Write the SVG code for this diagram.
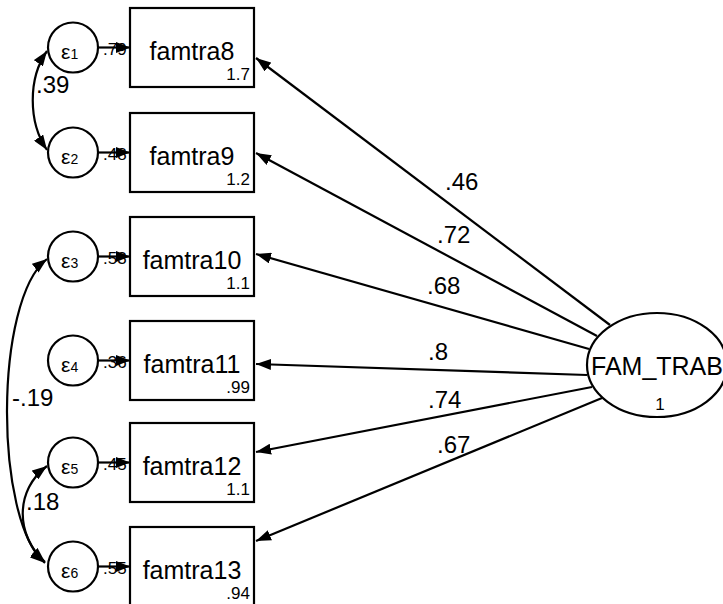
<svg xmlns="http://www.w3.org/2000/svg" width="723" height="604" viewBox="0 0 723 604">
  <defs>
    <marker id="arrow" viewBox="0 0 15 11" refX="15" refY="5.5" markerWidth="15" markerHeight="11" markerUnits="userSpaceOnUse" orient="auto-start-reverse">
      <path d="M0,0 L15,5.5 L0,11 z" fill="#000"/>
    </marker>
    <marker id="arrowSmall" viewBox="0 0 14 11" refX="14" refY="5.5" markerWidth="14" markerHeight="11" markerUnits="userSpaceOnUse" orient="auto">
      <path d="M0,0 L14,5.5 L0,11 z" fill="#000"/>
    </marker>
  </defs>
  <style>
    text { font-family: "Liberation Sans", Arial, sans-serif; fill: #000; }
    .box { fill: #fff; stroke: #000; stroke-width: 2.2; }
    .err { fill: #fff; stroke: #000; stroke-width: 2.2; }
    .lat { fill: #fff; stroke: #000; stroke-width: 2.2; }
    .name { font-size: 25px; text-anchor: middle; }
    .icpt { font-size: 17px; text-anchor: end; }
    .eps { font-size: 21px; }
    .epsub { font-size: 14px; }
    .coef { font-size: 24px; }
    .small { font-size: 17px; }
    .path { fill: none; stroke: #000; stroke-width: 2.2; marker-end: url(#arrow); }
    .epath { fill: none; stroke: #000; stroke-width: 2.2; marker-end: url(#arrowSmall); }
    .cov { fill: none; stroke: #000; stroke-width: 2.2; marker-start: url(#arrow); marker-end: url(#arrow); }
  </style>

  <rect width="723" height="604" fill="#fff"/>

  <!-- observed indicators -->
  <g id="famtra8">
    <rect class="box" x="130" y="8" width="124" height="79"/>
    <text class="name" x="192" y="60">famtra8</text>
    <text class="icpt" x="250" y="80">1.7</text>
  </g>
  <g id="famtra9">
    <rect class="box" x="130" y="113" width="124" height="79"/>
    <text class="name" x="192" y="165">famtra9</text>
    <text class="icpt" x="250" y="185">1.2</text>
  </g>
  <g id="famtra10">
    <rect class="box" x="130" y="217" width="124" height="79"/>
    <text class="name" x="192" y="269">famtra10</text>
    <text class="icpt" x="250" y="289">1.1</text>
  </g>
  <g id="famtra11">
    <rect class="box" x="130" y="321" width="124" height="79"/>
    <text class="name" x="192" y="373">famtra11</text>
    <text class="icpt" x="250" y="393">.99</text>
  </g>
  <g id="famtra12">
    <rect class="box" x="130" y="423" width="124" height="79"/>
    <text class="name" x="192" y="475">famtra12</text>
    <text class="icpt" x="250" y="495">1.1</text>
  </g>
  <g id="famtra13">
    <rect class="box" x="130" y="527" width="124" height="79"/>
    <text class="name" x="192" y="579">famtra13</text>
    <text class="icpt" x="250" y="599">.94</text>
  </g>

  <!-- error terms -->
  <g id="e1">
    <circle class="err" cx="73" cy="47.5" r="25"/>
    <text x="61" y="59"><tspan class="eps">ε</tspan><tspan class="epsub">1</tspan></text>
  </g>
  <g id="e2">
    <circle class="err" cx="73" cy="152.5" r="25"/>
    <text x="61" y="164"><tspan class="eps">ε</tspan><tspan class="epsub">2</tspan></text>
  </g>
  <g id="e3">
    <circle class="err" cx="73" cy="256.5" r="25"/>
    <text x="61" y="268"><tspan class="eps">ε</tspan><tspan class="epsub">3</tspan></text>
  </g>
  <g id="e4">
    <circle class="err" cx="73" cy="360.5" r="25"/>
    <text x="61" y="372"><tspan class="eps">ε</tspan><tspan class="epsub">4</tspan></text>
  </g>
  <g id="e5">
    <circle class="err" cx="73" cy="462.5" r="25"/>
    <text x="61" y="474"><tspan class="eps">ε</tspan><tspan class="epsub">5</tspan></text>
  </g>
  <g id="e6">
    <circle class="err" cx="73" cy="566.5" r="25"/>
    <text x="61" y="578"><tspan class="eps">ε</tspan><tspan class="epsub">6</tspan></text>
  </g>

  <!-- latent factor -->
  <g id="FAM_TRAB">
    <ellipse class="lat" cx="657" cy="365" rx="70" ry="52"/>
    <text class="name" x="657" y="375">FAM_TRAB</text>
    <text class="small" x="660" y="410" text-anchor="middle">1</text>
  </g>

  <g id="connectors">
    <!-- error variances (partly covered by the error paths) -->
    <text class="small" x="103" y="55">.79</text>
    <text class="small" x="103" y="160">.48</text>
    <text class="small" x="103" y="264">.53</text>
    <text class="small" x="103" y="368">.36</text>
    <text class="small" x="103" y="470">.45</text>
    <text class="small" x="103" y="574">.55</text>

    <!-- error paths -->
    <line class="epath" x1="98" y1="47.5" x2="130" y2="47.5"/>
    <line class="epath" x1="98" y1="152.5" x2="130" y2="152.5"/>
    <line class="epath" x1="98" y1="256.5" x2="130" y2="256.5"/>
    <line class="epath" x1="98" y1="360.5" x2="130" y2="360.5"/>
    <line class="epath" x1="98" y1="462.5" x2="130" y2="462.5"/>
    <line class="epath" x1="98" y1="566.5" x2="130" y2="566.5"/>

    <!-- loadings -->
    <line class="path" x1="610" y1="325" x2="256" y2="58"/>
    <line class="path" x1="597" y1="336" x2="256" y2="153"/>
    <line class="path" x1="589" y1="349" x2="256" y2="254"/>
    <line class="path" x1="587" y1="375" x2="256" y2="364"/>
    <line class="path" x1="592" y1="387" x2="256" y2="452"/>
    <line class="path" x1="602" y1="398" x2="256" y2="541"/>
    <text class="coef" x="445" y="190">.46</text>
    <text class="coef" x="437" y="243">.72</text>
    <text class="coef" x="427" y="294">.68</text>
    <text class="coef" x="428" y="360">.8</text>
    <text class="coef" x="428" y="408">.74</text>
    <text class="coef" x="437" y="453">.67</text>

    <!-- error covariances -->
    <path class="cov" d="M47,51 C28,78 28,122 47,150"/>
    <path class="cov" d="M47,259 C-6,300 -6,520 45,563"/>
    <path class="cov" d="M47,466 C15,490 15,535 45,562"/>
    <text class="coef" x="36" y="93">.39</text>
    <text class="coef" x="12" y="406">-.19</text>
    <text class="coef" x="26" y="510">.18</text>
  </g>
</svg>
